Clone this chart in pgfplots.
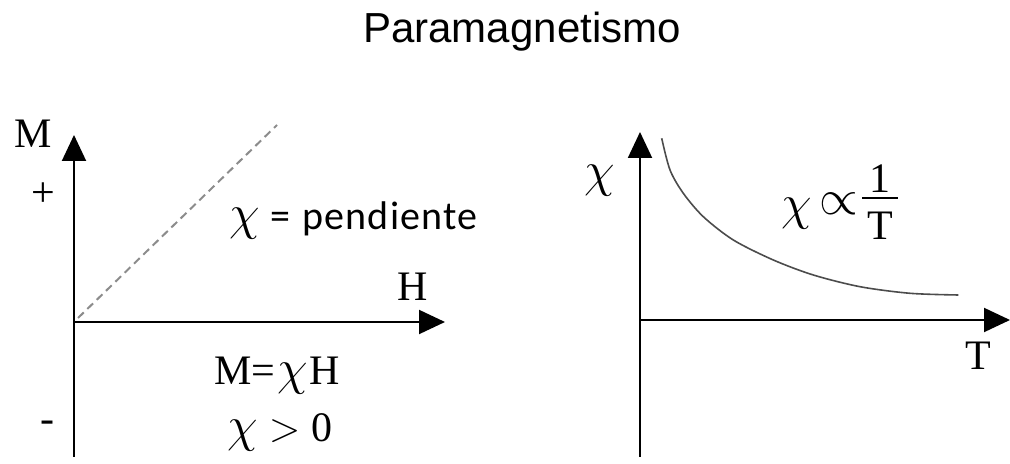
\documentclass[border=0pt]{standalone}
\usepackage{fontspec}
\setmainfont{Liberation Serif}
\newfontfamily\titlefont{Liberation Sans}
\newfontfamily\notefont[LetterSpace=3]{Carlito}
\usepackage{pgfplots}
\pgfplotsset{compat=1.18}
\usetikzlibrary{arrows.meta}

\begin{document}
\begin{tikzpicture}[x=0.5pt,y=0.5pt,
  lbl/.style={inner sep=0pt, font=\fontsize{21}{25}\selectfont},
  chi/.style={inner sep=0pt, font=\fontsize{23}{27}\selectfont}]
\useasboundingbox (0,0) rectangle (1010,464);
\pgfplotsset{
  schematic/.style={
    axis lines*=middle, scale only axis, enlargelimits=false, clip=false,
    xtick=\empty, ytick=\empty, anchor=south west,
    x axis line style={line width=1pt, -{Triangle[length=13pt,width=12pt]}},
    y axis line style={line width=1pt, -{Triangle[length=13pt,width=12pt]}},
  }
}
% M versus H: straight line through the origin
\begin{axis}[schematic, at={(37pt,3.5pt)}, width=185.5pt, height=161pt,
  xmin=0, xmax=371, ymin=-135, ymax=187]
\addplot[black!45, line width=1pt, dash pattern=on 4pt off 2.5pt]
  coordinates {(4,4) (203,197)};
\end{axis}
% chi versus T: Curie law
\begin{axis}[schematic, at={(320pt,3.5pt)}, width=185pt, height=162.5pt,
  xmin=0, xmax=370, ymin=-137, ymax=188]
\addplot[black!70, line width=0.8pt, smooth] coordinates {
  (21.7,181.7) (30,150) (43.3,126.7) (63.3,103.3) (93.3,80)
  (133.3,60) (173.3,45) (220,33.3) (270,26.7) (318.3,25)};
\end{axis}

% title
\node[inner sep=0pt, anchor=base, font=\titlefont\fontsize{21}{25}\selectfont]
  at (522,421) {Paramagnetismo};

% left diagram labels
\node[lbl, anchor=base] at (33,316) {M};
\node[lbl] at (43,269) {+};
\node[lbl] at (47,37) {-};
\node[lbl, anchor=base] at (413,163) {H};
\node[chi, anchor=base] at (245,234) {$\chi$};
\node[inner sep=0pt, anchor=base west, font=\notefont\fontsize{20}{24}\selectfont]
  at (270,234) {=\hspace{6pt}pendiente};
\node[lbl, anchor=base] at (277,79) {M=\kern1pt{\fontsize{23}{27}\selectfont$\chi$}\kern1ptH};
\node[lbl, anchor=base] at (280,22) {{\fontsize{23}{27}\selectfont$\chi$} $>$ 0};

% right diagram labels
\node[chi] at (600,283) {$\chi$};
\node[chi] at (797,250) {$\chi$};
\node[inner sep=0pt, font=\fontsize{24}{28}\selectfont] at (839,260) {$\propto$};
\node[lbl, anchor=base] at (880,271) {1};
\draw[line width=0.8pt] (862,266) -- (898,266);
\node[lbl, anchor=base] at (880,224) {T};
\node[lbl, anchor=base] at (978,94) {T};
\end{tikzpicture}
\end{document}
